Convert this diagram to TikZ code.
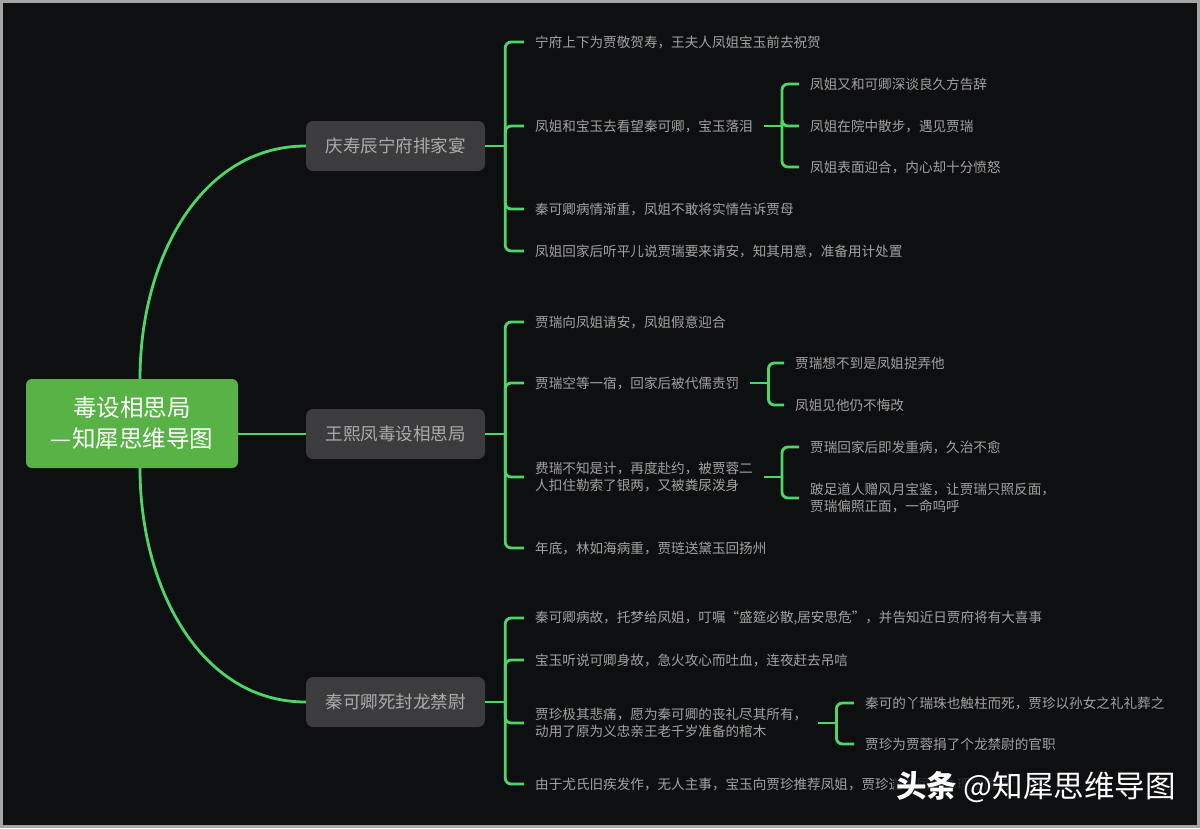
\documentclass[tikz,border=0pt]{standalone}
\usepackage{fontspec}
\usepackage{tikz}
\setmainfont{Noto Sans CJK SC}
\definecolor{bgc}{RGB}{14,15,17}
\definecolor{framec}{RGB}{165,165,165}
\definecolor{linkc}{RGB}{78,214,104}
\definecolor{rootc}{RGB}{88,178,70}
\definecolor{boxc}{RGB}{60,60,62}
\definecolor{boxtext}{RGB}{172,172,172}
\definecolor{leaftext}{RGB}{162,162,162}

\begin{document}
\begin{tikzpicture}[x=1pt,y=-1pt,
		root/.style={fill=rootc,rounded corners=6,minimum width=212,minimum height=89,text=white,font=\fontsize{23.5}{31}\selectfont,align=center},
		branch/.style={fill=boxc,rounded corners=7,minimum width=179,minimum height=50,text=boxtext,font=\fontsize{17.5}{20}\selectfont},
		leaf/.style={text=leaftext,font=\fontsize{13.6}{17}\selectfont,align=left,anchor=west,inner xsep=11,inner ysep=2},
		link/.style={draw=linkc,line width=2.8,rounded corners=6},
		wmark/.style={fill=bgc,fill opacity=0.8,text opacity=1,text=white,font=\fontsize{30.5}{33}\selectfont,inner sep=2,anchor=east}]
	\fill[framec] (0,0) rectangle (1200,828);
	\fill[bgc] (2.5,2.5) rectangle (1197,825);
	% centre and main branches
	\node[root] (root) at (132,423.5) {毒设相思局\\—知犀思维导图};
	\node[branch] (b1) at (395.5,146) {庆寿辰宁府排家宴};
	\node[branch] (b2) at (395.5,434) {王熙凤毒设相思局};
	\node[branch] (b3) at (395.5,702) {秦可卿死封龙禁尉};
	\draw[link] ([xshift=8]root.north) .. controls +(0,-120) and +(-105,0) .. (b1.west);
	\draw[link] (root.east |- b2.west) -- (b2.west);
	\draw[link] ([xshift=8]root.south) .. controls +(0,120) and +(-105,0) .. (b3.west);
	% first branch
	\node[leaf] (b1a) at (524,42) {宁府上下为贾敬贺寿，王夫人凤姐宝玉前去祝贺};
	\node[leaf] (b1b) at (524,126) {凤姐和宝玉去看望秦可卿，宝玉落泪};
	\node[leaf] (b1c) at (524,209) {秦可卿病情渐重，凤姐不敢将实情告诉贾母};
	\node[leaf] (b1d) at (524,251) {凤姐回家后听平儿说贾瑞要来请安，知其用意，准备用计处置};
	\node[leaf] (b1b1) at (799,84) {凤姐又和可卿深谈良久方告辞};
	\node[leaf] (b1b2) at (799,126) {凤姐在院中散步，遇见贾瑞};
	\node[leaf] (b1b3) at (799,167) {凤姐表面迎合，内心却十分愤怒};
	\draw[link] (b1.east) -- ++(20,0) coordinate (k1);
	\foreach \n in {b1a,b1b,b1c,b1d} \draw[link] (k1) |- (\n.west);
	\draw[link] (b1b.east) -- ++(18,0) coordinate (k1b);
	\foreach \n in {b1b1,b1b2,b1b3} \draw[link] (k1b) |- (\n.west);
	% second branch
	\node[leaf] (b2a) at (524,322) {贾瑞向凤姐请安，凤姐假意迎合};
	\node[leaf] (b2b) at (524,383) {贾瑞空等一宿，回家后被代儒责罚};
	\node[leaf] (b2c) at (524,477) {费瑞不知是计，再度赴约，被贾蓉二\\人扣住勒索了银两，又被粪尿泼身};
	\node[leaf] (b2d) at (524,548) {年底，林如海病重，贾琏送黛玉回扬州};
	\node[leaf] (b2b1) at (784,363) {贾瑞想不到是凤姐捉弄他};
	\node[leaf] (b2b2) at (784,405) {凤姐见他仍不悔改};
	\node[leaf] (b2c1) at (799,447) {贾瑞回家后即发重病，久治不愈};
	\node[leaf] (b2c2) at (799,498) {跛足道人赠风月宝鉴，让贾瑞只照反面，\\贾瑞偏照正面，一命呜呼};
	\draw[link] (b2.east) -- ++(20,0) coordinate (k2);
	\foreach \n in {b2a,b2b,b2c,b2d} \draw[link] (k2) |- (\n.west);
	\draw[link] (b2b.east) -- ++(18,0) coordinate (k2b);
	\foreach \n in {b2b1,b2b2} \draw[link] (k2b) |- (\n.west);
	\draw[link] (b2c.east) -- ++(18,0) coordinate (k2c);
	\foreach \n in {b2c1,b2c2} \draw[link] (k2c) |- (\n.west);
	% third branch
	\node[leaf] (b3a) at (524,618) {秦可卿病故，托梦给凤姐，叮嘱“盛筵必散,居安思危”，并告知近日贾府将有大喜事};
	\node[leaf] (b3b) at (524,660) {宝玉听说可卿身故，急火攻心而吐血，连夜赶去吊唁};
	\node[leaf] (b3c) at (524,723) {贾珍极其悲痛，愿为秦可卿的丧礼尽其所有，\\动用了原为义忠亲王老千岁准备的棺木};
	\node[leaf] (b3d) at (524,784) {由于尤氏旧疾发作，无人主事，宝玉向贾珍推荐凤姐，贾珍遂请凤姐协理宁国府};
	\node[leaf] (b3c1) at (854,703) {秦可的丫瑞珠也触柱而死，贾珍以孙女之礼礼葬之};
	\node[leaf] (b3c2) at (854,744) {贾珍为贾蓉捐了个龙禁尉的官职};
	\draw[link] (b3.east) -- ++(20,0) coordinate (k3);
	\foreach \n in {b3a,b3b,b3c,b3d} \draw[link] (k3) |- (\n.west);
	\draw[link] (b3c.east) -- ++(18,0) coordinate (k3c);
	\foreach \n in {b3c1,b3c2} \draw[link] (k3c) |- (\n.west);
	\node[wmark] (wm) at (1178,787) {\textbf{头条} @知犀思维导图};
\end{tikzpicture}
\end{document}
